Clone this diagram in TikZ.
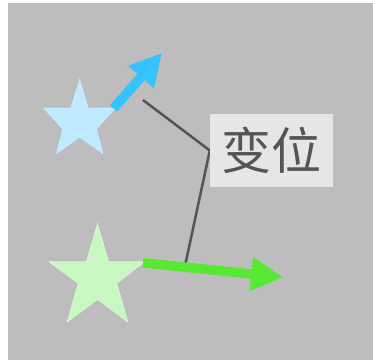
\documentclass[tikz,border=0pt]{standalone}
\usepackage{fontspec}
\newfontfamily\cjk{Noto Sans CJK SC}
\usetikzlibrary{arrows.meta,backgrounds}
\definecolor{bgc}{HTML}{BCBDBC}
\definecolor{bluestar}{HTML}{C0EAFF}
\definecolor{bluearr}{HTML}{35C3FD}
\definecolor{greenstar}{HTML}{C8F7C2}
\definecolor{greenedge}{HTML}{D6FAD0}
\definecolor{greenarr}{HTML}{57E834}
\definecolor{boxfill}{HTML}{E6E6E6}
\definecolor{inkc}{HTML}{555555}
\tikzset{
  vecarrow/.style={line width=9.5pt, -{Triangle[length=32pt,width=32pt]}},
  leader/.style={draw=inkc, line width=2.5pt, line join=miter},
  labelbox/.style={fill=boxfill, text=inkc, minimum width=123pt, minimum height=73pt, inner sep=0pt, font=\cjk\fontsize{50}{50}\selectfont}
}
\begin{document}
\begin{tikzpicture}[x=1pt,y=-1pt]
\useasboundingbox (0,0) rectangle (373,360);
% coordinates
\coordinate (bs) at (113.5,108.5);
\coordinate (bt) at (162,53);
\coordinate (gs) at (143,262.8);
\coordinate (gt) at (283.3,277.3);
\coordinate (la) at (143,100);
\coordinate (lg) at (185,266);
% label
\node[labelbox] (lbl) at (271.5,150.5) {变位};
\begin{scope}[on background layer]
\fill[bgc] (8,3) rectangle (373,360);
% leader line
\draw[leader] (la) -- (lbl.west) -- (lg);
% stars
\fill[bluestar] (79.6,78.3) -- (88.6,107.7) -- (116.4,107.7) -- (96.9,129) -- (103.3,154.3) -- (79.6,137.7) -- (55.9,154.3) -- (62.3,129) -- (42.8,107.7) -- (70.6,107.7) -- cycle;
\filldraw[fill=greenstar, draw=greenedge, line width=0.8pt, line join=miter] (97.5,224) -- (108.5,261.7) -- (144.5,261.7) -- (116.7,283.3) -- (127.7,321.7) -- (97.5,299.3) -- (67.5,321.7) -- (78.3,283.3) -- (49,261.7) -- (86.5,261.7) -- cycle;
% arrows
\draw[vecarrow, draw=bluearr, fill=bluearr] (bs) -- (bt);
\draw[vecarrow, draw=greenarr, fill=greenarr] (gs) -- (gt);
\end{scope}
\end{tikzpicture}
\end{document}
